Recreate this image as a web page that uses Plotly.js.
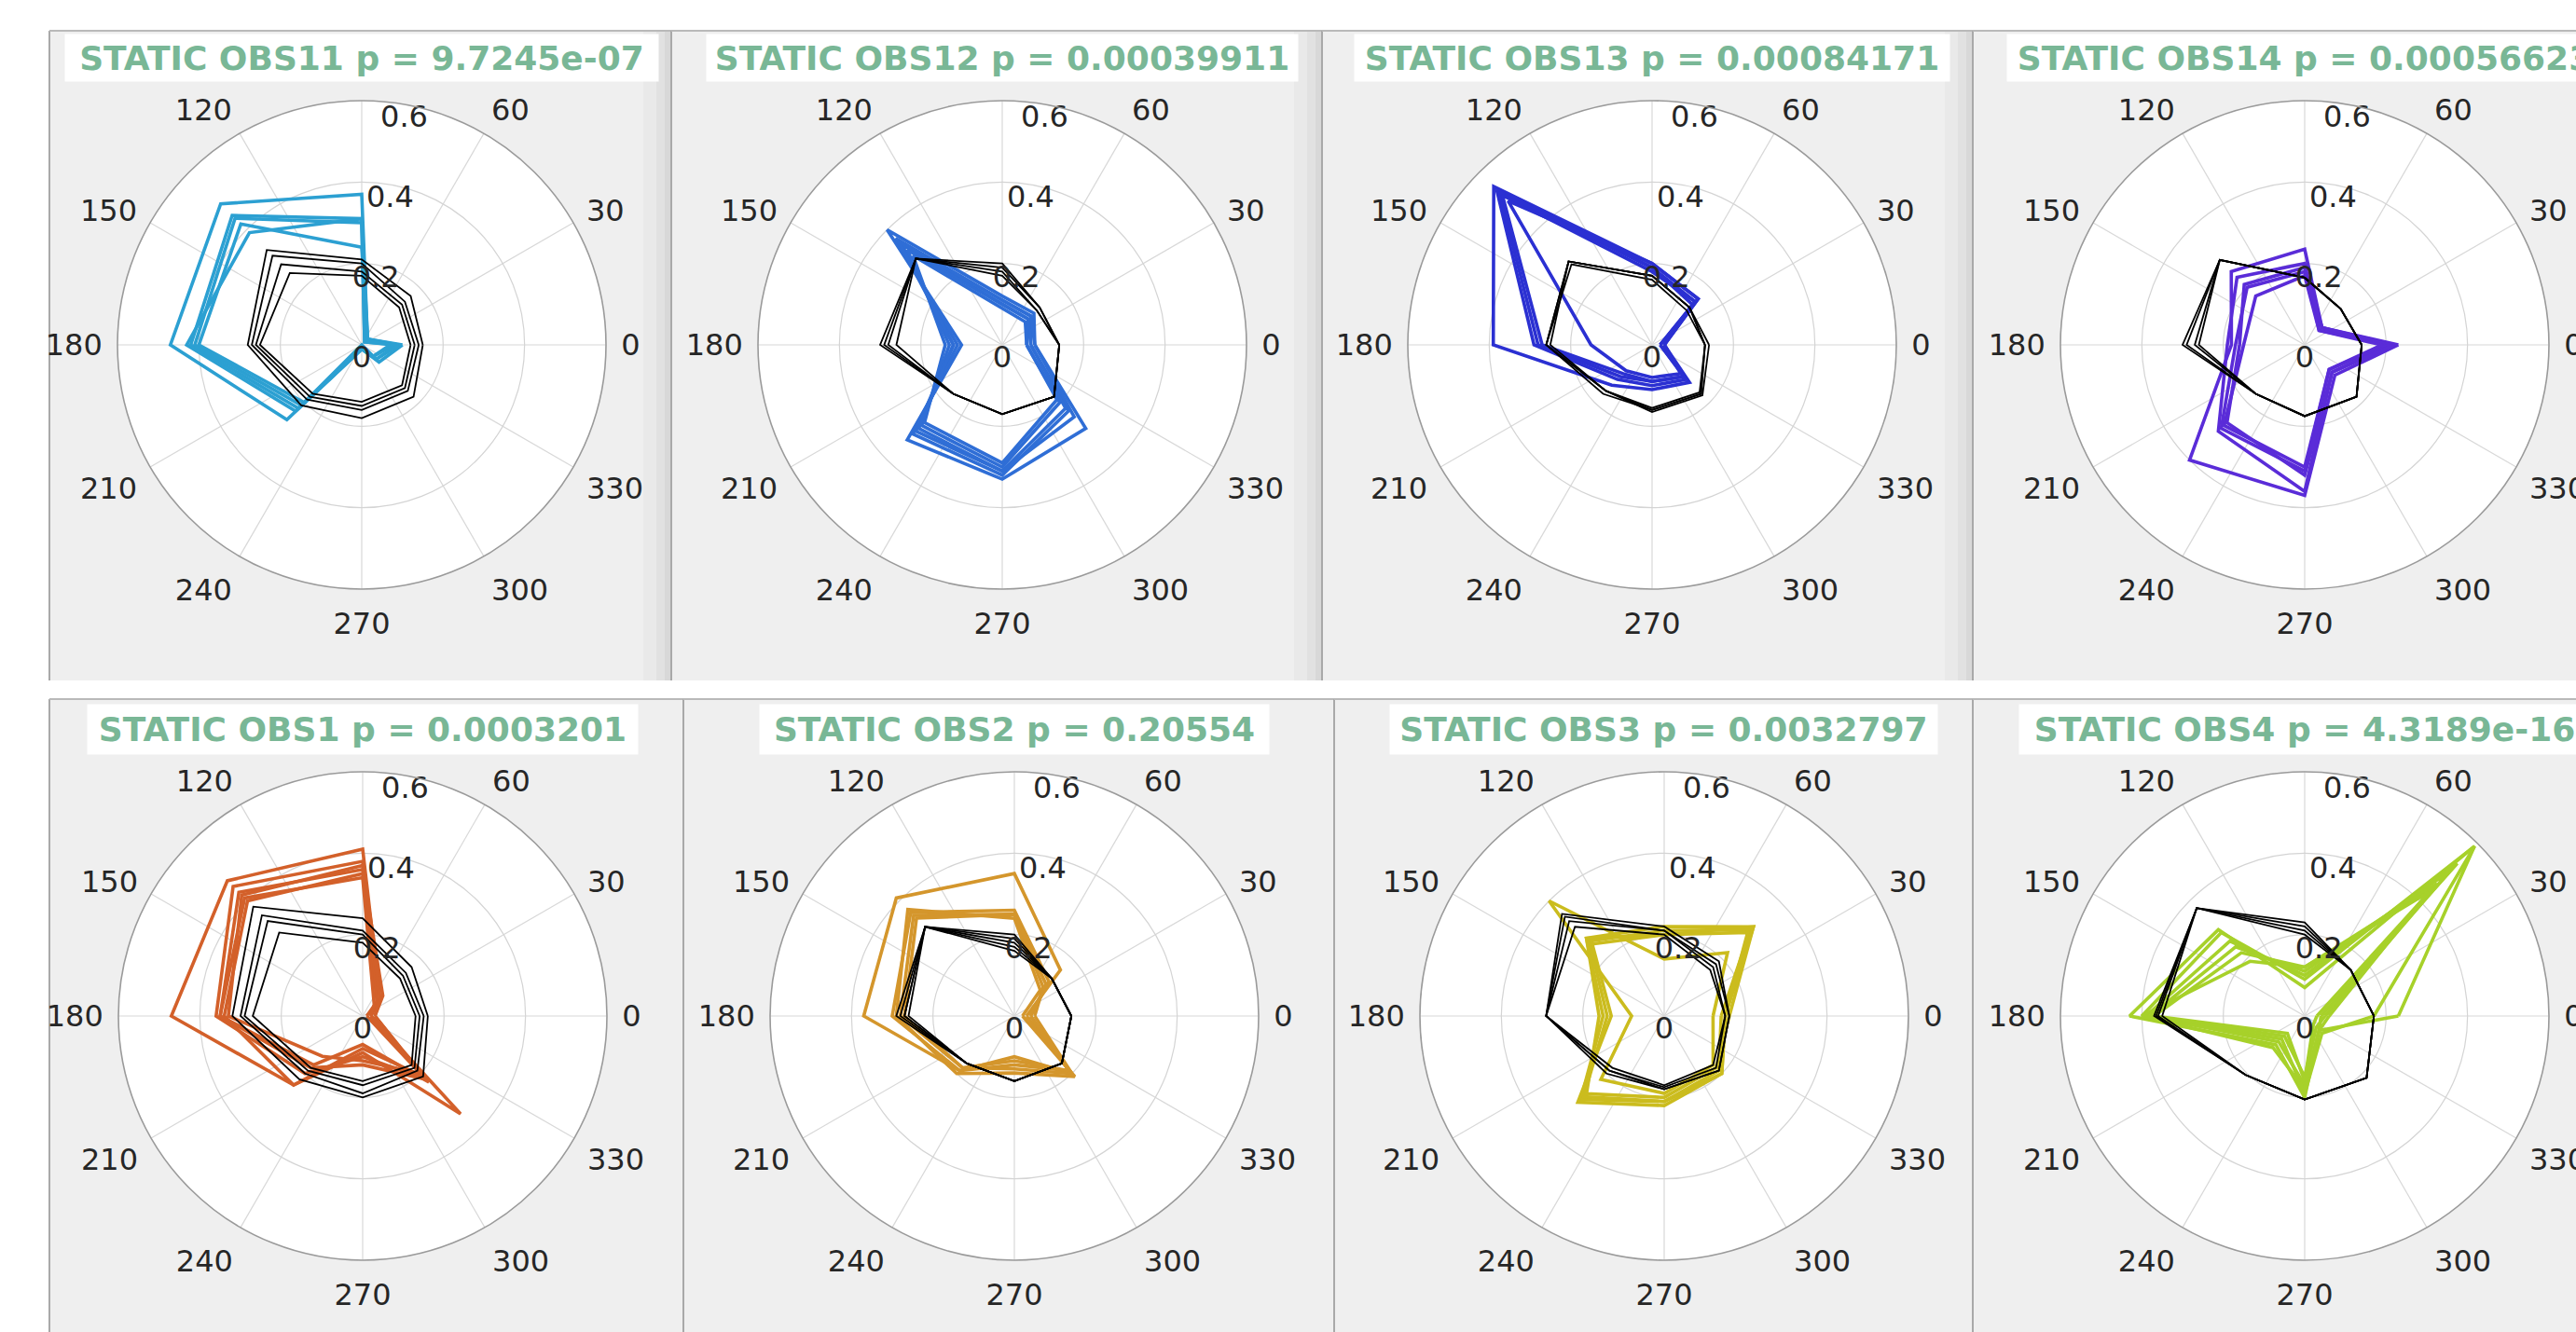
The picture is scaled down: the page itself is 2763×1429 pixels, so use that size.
<!DOCTYPE html>
<html>
<head>
<meta charset="utf-8">
<script src="https://cdn.plot.ly/plotly-3.0.1.min.js"></script>
<style>
  html, body { margin: 0; padding: 0; background: #ffffff; }
  #chart { width: 2763px; height: 1429px; }
</style>
</head>
<body>
<div id="chart"></div>
<script>
// Direction of each sample (degrees); polygons are closed back to the first one.
const directionDeg = [0, 45, 90, 135, 180, 225, 270, 315];

// Angular and radial tick labels (radial labels sit along the 80 degree ray)
const angleTicks = [0, 30, 60, 90, 120, 150, 180, 210, 240, 270, 300, 330];
const radialTicks = [0, 0.2, 0.4, 0.6];
const radialTickText = ['0', '0.2', '0.4', '0.6'];
const radialLabelAngle = 80;

// ---- OBS11 ----
const obs11Trials = [
  [0.10, 0.02, 0.37, 0.49, 0.47, 0.26, 0.01, 0.06],
  [0.09, 0.02, 0.31, 0.45, 0.42, 0.22, 0.01, 0.05],
  [0.08, 0.01, 0.30, 0.44, 0.41, 0.21, 0.01, 0.04],
  [0.07, 0.02, 0.24, 0.42, 0.40, 0.20, 0.00, 0.04],
  [0.09, 0.01, 0.31, 0.39, 0.43, 0.23, 0.01, 0.05]
];
const obs11Baseline = [
  [0.12, 0.13, 0.17, 0.25, 0.25, 0.17, 0.14, 0.14],
  [0.13, 0.14, 0.18, 0.28, 0.26, 0.18, 0.15, 0.15],
  [0.14, 0.15, 0.20, 0.31, 0.27, 0.19, 0.16, 0.16],
  [0.15, 0.17, 0.21, 0.33, 0.28, 0.21, 0.18, 0.18]
];

// ---- OBS12 ----
const obs12Trials = [
  [0.08, 0.11, 0.12, 0.40, 0.10, 0.33, 0.33, 0.29],
  [0.07, 0.10, 0.11, 0.37, 0.11, 0.31, 0.32, 0.23],
  [0.07, 0.09, 0.10, 0.35, 0.12, 0.30, 0.31, 0.22],
  [0.06, 0.09, 0.10, 0.33, 0.13, 0.28, 0.30, 0.20],
  [0.06, 0.08, 0.09, 0.31, 0.14, 0.27, 0.29, 0.19],
  [0.08, 0.10, 0.11, 0.36, 0.12, 0.29, 0.31, 0.25]
];
const obs12Baseline = [
  [0.14, 0.12, 0.17, 0.30, 0.30, 0.17, 0.17, 0.18],
  [0.14, 0.12, 0.18, 0.30, 0.29, 0.17, 0.17, 0.18],
  [0.14, 0.13, 0.19, 0.30, 0.28, 0.17, 0.17, 0.18],
  [0.14, 0.13, 0.20, 0.30, 0.26, 0.17, 0.17, 0.18]
];

// ---- OBS13 ----
const obs13Trials = [
  [0.03, 0.16, 0.20, 0.55, 0.39, 0.14, 0.11, 0.13],
  [0.02, 0.15, 0.19, 0.54, 0.29, 0.12, 0.10, 0.12],
  [0.03, 0.14, 0.19, 0.53, 0.28, 0.11, 0.09, 0.11],
  [0.02, 0.15, 0.18, 0.52, 0.27, 0.10, 0.09, 0.11],
  [0.03, 0.16, 0.20, 0.50, 0.15, 0.09, 0.08, 0.10]
];
const obs13Baseline = [
  [0.13, 0.13, 0.17, 0.29, 0.26, 0.16, 0.16, 0.17],
  [0.13, 0.13, 0.17, 0.29, 0.25, 0.16, 0.155, 0.165],
  [0.13, 0.12, 0.16, 0.28, 0.26, 0.17, 0.16, 0.17],
  [0.14, 0.13, 0.17, 0.29, 0.26, 0.16, 0.165, 0.175]
];

// ---- OBS14 ----
const obs14Trials = [
  [0.23, 0.06, 0.235, 0.255, 0.18, 0.40, 0.37, 0.105],
  [0.21, 0.05, 0.20, 0.235, 0.19, 0.30, 0.36, 0.095],
  [0.20, 0.06, 0.18, 0.20, 0.17, 0.29, 0.31, 0.085],
  [0.19, 0.05, 0.17, 0.17, 0.15, 0.28, 0.30, 0.085],
  [0.22, 0.06, 0.19, 0.21, 0.16, 0.27, 0.32, 0.095]
];
const obs14Baseline = [
  [0.14, 0.125, 0.165, 0.295, 0.30, 0.17, 0.175, 0.18],
  [0.14, 0.125, 0.165, 0.295, 0.29, 0.17, 0.175, 0.18],
  [0.14, 0.125, 0.165, 0.295, 0.27, 0.17, 0.175, 0.18],
  [0.14, 0.125, 0.165, 0.295, 0.26, 0.17, 0.175, 0.18]
];

// ---- OBS1 ----
const obs1Trials = [
  [0.02, 0.06, 0.41, 0.47, 0.47, 0.24, 0.09, 0.34],
  [0.02, 0.05, 0.38, 0.45, 0.36, 0.20, 0.10, 0.22],
  [0.03, 0.07, 0.36, 0.43, 0.35, 0.18, 0.12, 0.22],
  [0.01, 0.05, 0.35, 0.40, 0.34, 0.24, 0.08, 0.21],
  [0.03, 0.06, 0.37, 0.42, 0.33, 0.14, 0.11, 0.20],
  [0.02, 0.04, 0.34, 0.41, 0.35, 0.17, 0.07, 0.23]
];
const obs1Baseline = [
  [0.13, 0.13, 0.18, 0.29, 0.27, 0.18, 0.16, 0.17],
  [0.14, 0.14, 0.20, 0.33, 0.29, 0.19, 0.17, 0.18],
  [0.15, 0.15, 0.21, 0.35, 0.30, 0.20, 0.19, 0.19],
  [0.16, 0.17, 0.24, 0.38, 0.32, 0.22, 0.20, 0.21]
];

// ---- OBS2 ----
const obs2Trials = [
  [0.03, 0.16, 0.35, 0.41, 0.37, 0.19, 0.10, 0.20],
  [0.04, 0.12, 0.26, 0.36, 0.30, 0.19, 0.12, 0.19],
  [0.05, 0.10, 0.25, 0.35, 0.28, 0.18, 0.13, 0.20],
  [0.02, 0.09, 0.24, 0.37, 0.29, 0.20, 0.14, 0.21],
  [0.04, 0.11, 0.25, 0.34, 0.27, 0.18, 0.11, 0.19]
];
const obs2Baseline = [
  [0.14, 0.13, 0.16, 0.31, 0.29, 0.165, 0.16, 0.165],
  [0.14, 0.13, 0.17, 0.31, 0.28, 0.165, 0.16, 0.165],
  [0.14, 0.13, 0.18, 0.31, 0.27, 0.165, 0.16, 0.165],
  [0.14, 0.13, 0.19, 0.31, 0.27, 0.165, 0.16, 0.165],
  [0.14, 0.13, 0.20, 0.31, 0.26, 0.165, 0.16, 0.165]
];

// ---- OBS3 ----
const obs3Trials = [
  [0.15, 0.31, 0.20, 0.27, 0.15, 0.29, 0.21, 0.20],
  [0.14, 0.30, 0.21, 0.26, 0.14, 0.28, 0.21, 0.19],
  [0.15, 0.29, 0.20, 0.25, 0.13, 0.30, 0.22, 0.20],
  [0.16, 0.31, 0.22, 0.27, 0.16, 0.27, 0.20, 0.18],
  [0.12, 0.22, 0.14, 0.40, 0.08, 0.22, 0.19, 0.17]
];
const obs3Baseline = [
  [0.15, 0.16, 0.20, 0.31, 0.29, 0.18, 0.17, 0.17],
  [0.15, 0.17, 0.21, 0.33, 0.29, 0.19, 0.175, 0.18],
  [0.16, 0.18, 0.21, 0.345, 0.29, 0.19, 0.18, 0.19],
  [0.16, 0.19, 0.22, 0.355, 0.29, 0.20, 0.18, 0.19]
];

// ---- OBS4 ----
const obs4Trials = [
  [0.23, 0.59, 0.07, 0.30, 0.43, 0.10, 0.20, 0.05],
  [0.17, 0.59, 0.09, 0.29, 0.40, 0.08, 0.19, 0.06],
  [0.04, 0.53, 0.10, 0.26, 0.39, 0.09, 0.17, 0.05],
  [0.05, 0.50, 0.11, 0.24, 0.38, 0.07, 0.15, 0.04],
  [0.03, 0.46, 0.12, 0.22, 0.37, 0.06, 0.16, 0.03],
  [0.06, 0.43, 0.12, 0.19, 0.40, 0.11, 0.18, 0.05]
];
const obs4Baseline = [
  [0.17, 0.16, 0.20, 0.375, 0.37, 0.205, 0.205, 0.215],
  [0.17, 0.16, 0.21, 0.375, 0.365, 0.205, 0.205, 0.215],
  [0.17, 0.16, 0.22, 0.375, 0.36, 0.205, 0.205, 0.215],
  [0.17, 0.16, 0.23, 0.375, 0.35, 0.205, 0.205, 0.215]
];

// Panel titles
const panelTitles = [
  'STATIC OBS11 p = 9.7245e-07',
  'STATIC OBS12 p = 0.00039911',
  'STATIC OBS13 p = 0.00084171',
  'STATIC OBS14 p = 0.00056623',
  'STATIC OBS1 p = 0.0003201',
  'STATIC OBS2 p = 0.20554',
  'STATIC OBS3 p = 0.0032797',
  'STATIC OBS4 p = 4.3189e-16'
];

// ---------------- drawing ----------------
const W = 2763, H = 1429, R = 262;
const labelFont = { family: 'DejaVu Sans', size: 32, color: '#262626' };
const titleFont = { family: 'DejaVu Sans', size: 36, color: '#79b796', weight: 'bold' };

const panels = [
  { trials: obs11Trials, base: obs11Baseline, color: '#2ca0d2', cx: 388,  cy: 370,  boxW: 636, boxH: 50, boxY: 62 },
  { trials: obs12Trials, base: obs12Baseline, color: '#2f6ed6', cx: 1075, cy: 370,  boxW: 634, boxH: 50, boxY: 62 },
  { trials: obs13Trials, base: obs13Baseline, color: '#2b30d2', cx: 1772, cy: 370,  boxW: 638, boxH: 50, boxY: 62 },
  { trials: obs14Trials, base: obs14Baseline, color: '#5a2cd8', cx: 2472, cy: 370,  boxW: 638, boxH: 50, boxY: 62 },
  { trials: obs1Trials,  base: obs1Baseline,  color: '#d3602a', cx: 389,  cy: 1090, boxW: 590, boxH: 53, boxY: 782 },
  { trials: obs2Trials,  base: obs2Baseline,  color: '#d4962c', cx: 1088, cy: 1090, boxW: 546, boxH: 53, boxY: 782 },
  { trials: obs3Trials,  base: obs3Baseline,  color: '#cbbc1e', cx: 1785, cy: 1090, boxW: 587, boxH: 53, boxY: 782 },
  { trials: obs4Trials,  base: obs4Baseline,  color: '#a7d12a', cx: 2472, cy: 1090, boxW: 612, boxH: 53, boxY: 782 }
];

const closeLoop = arr => arr.concat([arr[0]]);
const thetaClosed = closeLoop(directionDeg);

const traces = [];
const layout = {
  width: W, height: H,
  margin: { l: 0, r: 0, t: 0, b: 0 },
  paper_bgcolor: '#ffffff',
  showlegend: false,
  shapes: [],
  annotations: []
};

panels.forEach((p, i) => {
  const id = i === 0 ? 'polar' : 'polar' + (i + 1);
  p.trials.forEach(r => traces.push({
    type: 'scatterpolar', subplot: id, mode: 'lines',
    r: closeLoop(r), theta: thetaClosed,
    line: { color: p.color, width: 3.6 }, hoverinfo: 'skip'
  }));
  p.base.forEach(r => traces.push({
    type: 'scatterpolar', subplot: id, mode: 'lines',
    r: closeLoop(r), theta: thetaClosed,
    line: { color: '#000000', width: 1.8 }, hoverinfo: 'skip'
  }));
  // radial tick labels placed on the 80 degree ray, as in a MATLAB polar axes
  traces.push({
    type: 'scatterpolar', subplot: id, mode: 'text',
    r: radialTicks, theta: radialTicks.map(() => radialLabelAngle),
    text: radialTickText, textposition: 'bottom center',
    textfont: labelFont, cliponaxis: false, hoverinfo: 'skip'
  });

  layout[id] = {
    domain: {
      x: [(p.cx - R) / W, (p.cx + R) / W],
      y: [1 - (p.cy + R) / H, 1 - (p.cy - R) / H]
    },
    bgcolor: '#ffffff',
    radialaxis: {
      range: [0, 0.6], tickmode: 'array', tickvals: radialTicks,
      showticklabels: false, angle: radialLabelAngle,
      showline: false, ticks: '', gridcolor: '#d4d4d4', gridwidth: 1.2
    },
    angularaxis: {
      direction: 'counterclockwise', rotation: 0,
      tickmode: 'array', tickvals: angleTicks, ticktext: angleTicks.map(String),
      ticks: 'outside', ticklen: 9, tickcolor: 'rgba(0,0,0,0)',
      linecolor: '#9a9a9a', linewidth: 1.6,
      gridcolor: '#d8d8d8', gridwidth: 1.2,
      tickfont: labelFont
    }
  };

  layout.annotations.push({
    xref: 'paper', yref: 'paper',
    x: p.cx / W, y: 1 - p.boxY / H,
    xanchor: 'center', yanchor: 'middle',
    text: panelTitles[i], showarrow: false,
    font: titleFont, bgcolor: '#ffffff',
    width: p.boxW, height: p.boxH, borderpad: 0
  });
});

// Figure window panes behind the plots
const panes = [
  [53, 720, 33, 730], [720, 1418, 33, 730], [1418, 2116, 33, 730], [2116, 2763, 33, 730],
  [53, 733, 750, 1429], [733, 1431, 750, 1429], [1431, 2116, 750, 1429], [2116, 2763, 750, 1429]
];
const px = v => v / W, py = v => 1 - v / H;
panes.forEach(([x0, x1, y0, y1], k) => {
  layout.shapes.push({
    type: 'rect', xref: 'paper', yref: 'paper', layer: 'below',
    x0: px(x0), x1: px(x1), y0: py(y1), y1: py(y0),
    fillcolor: '#efefef', line: { width: 0 }
  });
  // soft shading along the right edge of the upper panes
  if (k < 3) {
    [[30, 0.025], [16, 0.03], [7, 0.04]].forEach(([w, a]) => layout.shapes.push({
      type: 'rect', xref: 'paper', yref: 'paper', layer: 'below',
      x0: px(x1 - w), x1: px(x1), y0: py(y1), y1: py(y0),
      fillcolor: 'rgba(0,0,0,' + a + ')', line: { width: 0 }
    }));
  }
  layout.shapes.push({
    type: 'line', xref: 'paper', yref: 'paper', layer: 'below',
    x0: px(x0), x1: px(x0), y0: py(y1), y1: py(y0),
    line: { color: '#a9a9a9', width: 2 }
  });
  layout.shapes.push({
    type: 'line', xref: 'paper', yref: 'paper', layer: 'below',
    x0: px(x0), x1: px(x1), y0: py(y0), y1: py(y0),
    line: { color: '#b9b9b9', width: 2 }
  });
});

Plotly.newPlot('chart', traces, layout, { staticPlot: true, displayModeBar: false });
</script>
</body>
</html>
